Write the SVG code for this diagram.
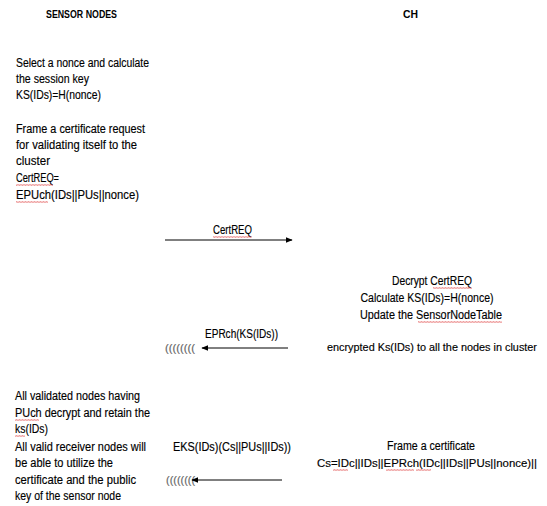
<svg xmlns="http://www.w3.org/2000/svg" width="547" height="506" viewBox="0 0 547 506">
<style>
text{font-family:"Liberation Sans",Arial,sans-serif;font-size:12px;fill:#000;stroke:#000;stroke-width:0.15}
.h{font-weight:bold;font-size:10.5px;stroke-width:0}
.w{fill:#666;stroke:#666;font-size:10px}
.c{text-anchor:middle}
.s{font-size:10.6px}
.ln{stroke:#000;stroke-width:1;fill:none}
.sq{fill:url(#wave)}
</style>
<defs>
<marker id="ah" viewBox="0 0 10 10" refX="9" refY="5" markerWidth="7" markerHeight="7" orient="auto-start-reverse" markerUnits="userSpaceOnUse">
<path d="M0,1 L10,5 L0,9 Z" fill="#000"/>
</marker>
<pattern id="wave" width="3" height="2" patternUnits="userSpaceOnUse">
<path d="M0,1.8 L0.75,0.3 L1.5,1.8 L2.25,0.3 L3,1.8" stroke="#e05050" stroke-width="0.5" fill="none"/>
</pattern>
</defs>
<rect width="547" height="506" fill="#fff"/>

<g id="header-sensor"><text class="h" x="46" y="18" textLength="71" lengthAdjust="spacingAndGlyphs">SENSOR NODES</text></g>
<g id="header-ch"><text class="h" x="403" y="18" textLength="15" lengthAdjust="spacingAndGlyphs">CH</text></g>

<g id="sensor-request">
<text x="16" y="67" textLength="133" lengthAdjust="spacingAndGlyphs">Select a nonce and calculate</text>
<text x="16" y="83" textLength="73" lengthAdjust="spacingAndGlyphs">the session key</text>
<text x="16" y="99" textLength="85" lengthAdjust="spacingAndGlyphs">KS(IDs)=H(nonce)</text>
<text x="16" y="133" textLength="129" lengthAdjust="spacingAndGlyphs">Frame a certificate request</text>
<text x="16" y="149" textLength="121" lengthAdjust="spacingAndGlyphs">for validating itself to the</text>
<text x="16" y="165" textLength="34" lengthAdjust="spacingAndGlyphs">cluster</text>
<text x="16" y="182" textLength="43" lengthAdjust="spacingAndGlyphs">CertREQ=</text>
<text x="16" y="199" textLength="123" lengthAdjust="spacingAndGlyphs">EPUch(IDs||PUs||nonce)</text>
<rect class="sq" x="16" y="184" width="37" height="2"/>
<rect class="sq" x="16" y="201" width="32" height="2"/>
</g>

<g id="certreq-label">
<text x="213" y="234" textLength="39" lengthAdjust="spacingAndGlyphs">CertREQ</text>
<rect class="sq" x="213" y="236" width="39" height="2"/>
</g>

<g id="ch-process">
<text class="c" x="432" y="285" textLength="80" lengthAdjust="spacingAndGlyphs">Decrypt CertREQ</text>
<text class="c" x="427" y="302" textLength="133" lengthAdjust="spacingAndGlyphs">Calculate KS(IDs)=H(nonce)</text>
<text class="c" x="431" y="319" textLength="142" lengthAdjust="spacingAndGlyphs">Update the SensorNodeTable</text>
<text class="s" x="327" y="351" textLength="210" lengthAdjust="spacingAndGlyphs">encrypted Ks(IDs) to all the nodes in cluster</text>
<rect class="sq" x="433" y="287" width="39" height="2"/>
<rect class="sq" x="418" y="321" width="84" height="2"/>
</g>

<g id="eprch-label">
<text x="205" y="338" textLength="73" lengthAdjust="spacingAndGlyphs">EPRch(KS(IDs))</text>
<text class="w" x="165" y="352" textLength="30" lengthAdjust="spacingAndGlyphs">((((((((</text>
</g>

<g id="sensor-validate">
<text x="15" y="400" textLength="125" lengthAdjust="spacingAndGlyphs">All validated nodes having</text>
<text x="15" y="417" textLength="135" lengthAdjust="spacingAndGlyphs">PUch decrypt and retain the</text>
<text x="15" y="433" textLength="33" lengthAdjust="spacingAndGlyphs">ks(IDs)</text>
<text x="15" y="451" textLength="131" lengthAdjust="spacingAndGlyphs">All valid receiver nodes will</text>
<text x="15" y="467" textLength="98" lengthAdjust="spacingAndGlyphs">be able to utilize the</text>
<text x="15" y="484" textLength="121" lengthAdjust="spacingAndGlyphs">certificate and the public</text>
<text x="15" y="500" textLength="106" lengthAdjust="spacingAndGlyphs">key of the sensor node</text>
<rect class="sq" x="15" y="419" width="24" height="2"/>
<rect class="sq" x="15" y="435" width="10" height="2"/>
</g>

<g id="eks-label">
<text x="173" y="451" textLength="118" lengthAdjust="spacingAndGlyphs">EKS(IDs)(Cs||PUs||IDs))</text>
<text class="w" x="166" y="484" textLength="29" lengthAdjust="spacingAndGlyphs">((((((((</text>
</g>

<g id="ch-certificate">
<text class="c" x="431" y="450" textLength="88" lengthAdjust="spacingAndGlyphs">Frame a certificate</text>
<text class="s" x="317" y="467" textLength="220" lengthAdjust="spacingAndGlyphs">Cs=IDc||IDs||EPRch(IDc||IDs||PUs||nonce)||</text>
<rect class="sq" x="333" y="469" width="15" height="2"/>
<rect class="sq" x="386" y="469" width="28" height="2"/>
<rect class="sq" x="416" y="469" width="15" height="2"/>
</g>

<g id="connectors">
<line class="ln" x1="165" y1="240" x2="292" y2="240" marker-end="url(#ah)"/>
<line class="ln" x1="288" y1="348" x2="202" y2="348" marker-end="url(#ah)"/>
<line class="ln" x1="282" y1="480" x2="192" y2="480" marker-end="url(#ah)"/>
</g>
</svg>
